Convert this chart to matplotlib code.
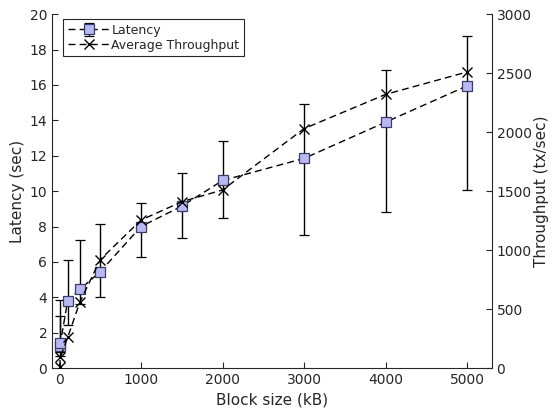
import matplotlib
matplotlib.use("Agg")
import matplotlib.pyplot as plt
import numpy as np

###############################################################################
# Data

block_kb = [1, 10, 100, 250, 500, 1000, 1500, 2000, 3000, 4000, 5000]
latency = [1.25, 1.4, 3.8, 4.45, 5.45, 8.0, 9.15, 10.6, 11.85, 13.9, 15.95]
latency_low = [0.7, 0.9, 2.45, 3.65, 4.0, 6.25, 7.35, 8.5, 7.5, 8.8, 10.05]
latency_high = [2.95, 3.85, 6.1, 7.25, 8.15, 9.35, 11.05, 12.85, 14.9, 16.85, 18.75]
throughput = [10, 90, 260, 560, 920, 1255, 1410, 1510, 2030, 2320, 2510]

lat_ticks = [0, 2, 4, 6, 8, 10, 12, 14, 16, 18, 20]
tput_ticks = [0, 500, 1000, 1500, 2000, 2500, 3000]
block_ticks = [0, 1000, 2000, 3000, 4000, 5000]

###############################################################################
# Plot

txt = "#262626"
plt.rcParams["font.family"] = "DejaVu Sans"
plt.rcParams["font.size"] = 10

fig = plt.figure(figsize=(5.55, 4.15), dpi=100)
ax = fig.add_axes([0.094, 0.113, 0.792, 0.853])
ax2 = ax.twinx()

lat = np.array(latency)
yerr = [lat - np.array(latency_low), np.array(latency_high) - lat]

h1 = ax.errorbar(block_kb, latency, yerr=yerr, fmt="s", ls=(0, (5, 3)),
                 color="black", lw=1, ecolor="black", elinewidth=1,
                 capsize=3.5, capthick=1, ms=7, mfc="#b8b8f5",
                 mec="#3c3c64", mew=0.9, label="Latency")

h2, = ax2.plot(block_kb, throughput, ls=(0, (5, 3)), color="black", lw=1,
               marker="x", ms=7, mew=1, label="Average Throughput")

ax.set_xlim(-90, 5300)
ax.set_ylim(0, 20)
ax2.set_ylim(0, 3000)
ax.set_xticks(block_ticks)
ax.set_yticks(lat_ticks)
ax2.set_yticks(tput_ticks)

for a in (ax, ax2):
    a.spines["top"].set_visible(False)
    for s in a.spines.values():
        s.set_color(txt)
        s.set_linewidth(0.8)
    a.tick_params(direction="in", length=4, width=0.8, colors=txt,
                  labelsize=10)
ax.spines["right"].set_visible(False)
ax2.spines["left"].set_visible(False)
ax2.spines["bottom"].set_visible(False)

ax.set_xlabel("Block size (kB)", fontsize=11, color=txt, labelpad=4)
ax.set_ylabel("Latency (sec)", fontsize=11, color=txt, labelpad=3)
ax2.set_ylabel("Throughput (tx/sec)", fontsize=11, color=txt, labelpad=2)

leg = ax.legend([h1, h2], ["Latency", "Average Throughput"], loc="upper left",
                bbox_to_anchor=(0.025, 0.985), fontsize=9, fancybox=False,
                edgecolor=txt, framealpha=1, handlelength=3.4,
                handletextpad=0.1, borderpad=0.35, labelspacing=0.15,
                borderaxespad=0)
leg.get_frame().set_linewidth(0.8)
for t in leg.get_texts():
    t.set_color(txt)

fig.savefig("out.png", dpi=100)
